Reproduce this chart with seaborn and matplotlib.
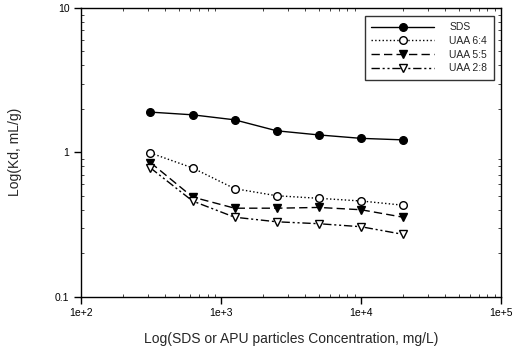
import numpy as np
import pandas as pd
import seaborn as sns
import matplotlib
matplotlib.use('Agg')
import matplotlib.pyplot as plt
from matplotlib.ticker import FixedLocator, FixedFormatter, LogLocator, NullFormatter

sns.set_style('ticks')
plt.rcParams['font.family'] = ['Liberation Sans', 'DejaVu Sans']

# 浓度 (mg/L) 与各组 Kd
conc = [312.5, 625, 1250, 2500, 5000, 10000, 20000]
kd_sds = [1.90, 1.82, 1.68, 1.41, 1.32, 1.25, 1.22]
kd_uaa64 = [0.99, 0.78, 0.56, 0.50, 0.48, 0.46, 0.43]
kd_uaa55 = [0.85, 0.49, 0.41, 0.41, 0.415, 0.40, 0.355]
kd_uaa28 = [0.78, 0.46, 0.355, 0.33, 0.32, 0.305, 0.27]
names = ['SDS', 'UAA 6:4', 'UAA 5:5', 'UAA 2:8']

df = pd.DataFrame({
    'conc': conc * 4,
    'kd': kd_sds + kd_uaa64 + kd_uaa55 + kd_uaa28,
    'series': [n for n in names for _ in conc],
})

styles = {
    'SDS': dict(ls='-', marker='o', mfc='black'),
    'UAA 6:4': dict(ls=':', marker='o', mfc='white'),
    'UAA 5:5': dict(ls=(0, (6, 3)), marker='v', mfc='black'),
    'UAA 2:8': dict(ls=(0, (6, 2, 1.5, 2, 1.5, 2)), marker='v', mfc='white'),
}

fig = plt.figure(figsize=(5.17, 3.51), dpi=100)
ax = fig.add_axes([0.157, 0.155, 0.812, 0.822])

for n in names:
    s = styles[n]
    sns.lineplot(data=df[df['series'] == n], x='conc', y='kd', ax=ax,
                 color='black', linestyle=s['ls'], linewidth=1.0,
                 marker=s['marker'], markersize=5.5, markerfacecolor=s['mfc'],
                 markeredgecolor='black', markeredgewidth=1.0, label=n)

ax.set_xscale('log')
ax.set_yscale('log')
ax.set_xlim(100, 100000)
ax.set_ylim(0.1, 10)

ax.xaxis.set_major_locator(FixedLocator([1e2, 1e3, 1e4, 1e5]))
ax.xaxis.set_major_formatter(FixedFormatter(['1e+2', '1e+3', '1e+4', '1e+5']))
ax.yaxis.set_major_locator(FixedLocator([0.1, 1, 10]))
ax.yaxis.set_major_formatter(FixedFormatter(['0.1', '1', '10']))
ax.xaxis.set_minor_locator(LogLocator(base=10, subs=np.arange(2, 10)))
ax.yaxis.set_minor_locator(LogLocator(base=10, subs=np.arange(2, 10)))
ax.xaxis.set_minor_formatter(NullFormatter())
ax.yaxis.set_minor_formatter(NullFormatter())

ax.tick_params(which='major', direction='out', length=5, width=1, labelsize=7.5, colors='black')
ax.tick_params(which='minor', direction='in', length=2, width=0.6,
               top=True, right=True)
for sp in ax.spines.values():
    sp.set_color('black')
    sp.set_linewidth(1.0)

ax.set_xlabel('Log(SDS or APU particles Concentration, mg/L)', fontsize=10, labelpad=10)
ax.set_ylabel('Log(Kd, mL/g)', fontsize=10, labelpad=24)

leg = ax.legend(loc='upper right', bbox_to_anchor=(0.995, 0.99), fontsize=7.5,
                frameon=True, fancybox=False, edgecolor='black',
                handlelength=6, borderpad=0.6, labelspacing=0.35,
                handletextpad=1.5)
leg.get_frame().set_linewidth(1.0)

fig.savefig('out.png', dpi=100)
